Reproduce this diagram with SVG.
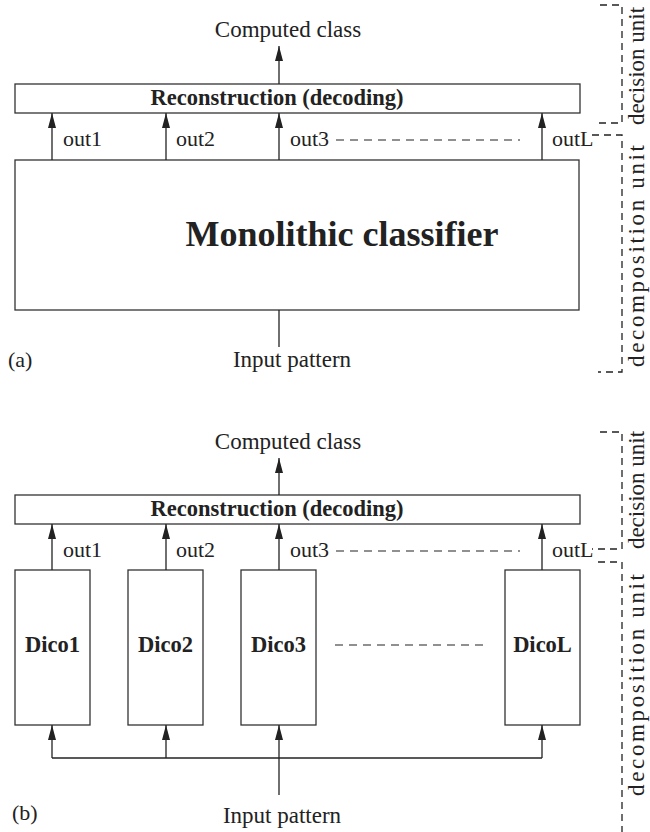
<svg xmlns="http://www.w3.org/2000/svg" width="650" height="832" viewBox="0 0 650 832">
<style>
text{font-family:"Liberation Serif","Times New Roman",serif;fill:#222}
.lbl{font-size:23px}
.out{font-size:22px}
.b{font-weight:bold;font-size:22.5px}
.big{font-weight:bold;font-size:36px}
.box{fill:#fff;stroke:#333;stroke-width:1.3}
.ln{fill:none;stroke:#222;stroke-width:1.3}
.arr{fill:none;stroke:#222;stroke-width:1.3;marker-end:url(#ah)}
.dash{fill:none;stroke:#222;stroke-width:1.2;stroke-dasharray:8 6}
.br{fill:none;stroke:#222;stroke-width:1.3;stroke-dasharray:7 5}
.side{font-size:23px}
</style>
<defs>
<marker id="ah" markerUnits="userSpaceOnUse" markerWidth="15" markerHeight="8" refX="15" refY="4" orient="auto">
<path d="M0,0 L15,4 L0,8 z" fill="#222"/>
</marker>
</defs>

<!-- Panel (a) -->
<g id="a-computed"><text class="lbl" x="288" y="37" text-anchor="middle">Computed class</text></g>
<g id="a-reconstruction"><rect class="box" x="15" y="84" width="565" height="29"/><text class="b" x="277" y="104.5" text-anchor="middle">Reconstruction (decoding)</text></g>
<g id="a-monolithic"><rect class="box" x="15" y="160" width="564" height="150"/><text class="big" x="342" y="246" text-anchor="middle">Monolithic classifier</text></g>
<g id="a-input"><text class="lbl" x="292" y="367" text-anchor="middle">Input pattern</text></g>
<g id="a-label"><text class="out" x="8" y="367">(a)</text></g>
<g id="a-decision-unit"><path class="br" d="M600,5 H622 V123 H598"/><text class="side" transform="translate(644,66) rotate(-90)" text-anchor="middle">decision unit</text></g>
<g id="a-decomposition-unit"><path class="br" d="M592,135 H622 V372 H598"/><text class="side" transform="translate(644,256) rotate(-90)" text-anchor="middle" textLength="222" lengthAdjust="spacing">decomposition unit</text></g>

<g id="a-connectors">
<line class="arr" x1="279" y1="84" x2="279" y2="46"/>
<line class="arr" x1="52" y1="160" x2="52" y2="113"/>
<line class="arr" x1="166" y1="160" x2="166" y2="113"/>
<line class="arr" x1="279" y1="160" x2="279" y2="113"/>
<line class="arr" x1="542" y1="160" x2="542" y2="113"/>
<line class="ln" x1="279" y1="310" x2="279" y2="347"/>
<line class="dash" x1="336" y1="140" x2="520" y2="140"/>
<text class="out" x="63" y="146">out1</text>
<text class="out" x="176" y="146">out2</text>
<text class="out" x="290" y="146">out3</text>
<text class="out" x="552" y="146">outL</text>
</g>

<!-- Panel (b) -->
<g id="b-computed"><text class="lbl" x="288" y="449" text-anchor="middle">Computed class</text></g>
<g id="b-reconstruction"><rect class="box" x="15" y="495" width="565" height="29"/><text class="b" x="277" y="515.5" text-anchor="middle">Reconstruction (decoding)</text></g>
<g id="b-dico1"><rect class="box" x="15" y="570" width="75" height="155"/><text class="b" x="52.5" y="652" text-anchor="middle">Dico1</text></g>
<g id="b-dico2"><rect class="box" x="128" y="570" width="75" height="155"/><text class="b" x="165.5" y="652" text-anchor="middle">Dico2</text></g>
<g id="b-dico3"><rect class="box" x="241" y="570" width="75" height="155"/><text class="b" x="278.5" y="652" text-anchor="middle">Dico3</text></g>
<g id="b-dicoL"><rect class="box" x="505" y="570" width="75" height="155"/><text class="b" x="542.5" y="652" text-anchor="middle">DicoL</text></g>
<g id="b-input"><text class="lbl" x="282" y="823" text-anchor="middle">Input pattern</text></g>
<g id="b-label"><text class="out" x="12" y="820">(b)</text></g>
<g id="b-decision-unit"><path class="br" d="M600,432 H622 V549 H592"/><text class="side" transform="translate(644,490) rotate(-90)" text-anchor="middle">decision unit</text></g>
<g id="b-decomposition-unit"><path class="br" d="M598,562 H622 V832"/><text class="side" transform="translate(644,685) rotate(-90)" text-anchor="middle" textLength="222" lengthAdjust="spacing">decomposition unit</text></g>

<g id="b-connectors">
<line class="arr" x1="279" y1="495" x2="279" y2="458"/>
<line class="arr" x1="52" y1="570" x2="52" y2="524"/>
<line class="arr" x1="166" y1="570" x2="166" y2="524"/>
<line class="arr" x1="279" y1="570" x2="279" y2="524"/>
<line class="arr" x1="542" y1="570" x2="542" y2="524"/>
<line class="dash" x1="336" y1="551" x2="520" y2="551"/>
<line class="dash" x1="335" y1="645" x2="487" y2="645"/>
<line class="ln" x1="52" y1="758" x2="542" y2="758"/>
<line class="arr" x1="52" y1="758" x2="52" y2="725"/>
<line class="arr" x1="166" y1="758" x2="166" y2="725"/>
<line class="arr" x1="542" y1="758" x2="542" y2="725"/>
<line class="arr" x1="279" y1="795" x2="279" y2="725"/>
<text class="out" x="63" y="557">out1</text>
<text class="out" x="176" y="557">out2</text>
<text class="out" x="290" y="557">out3</text>
<text class="out" x="552" y="557">outL</text>
</g>
</svg>
